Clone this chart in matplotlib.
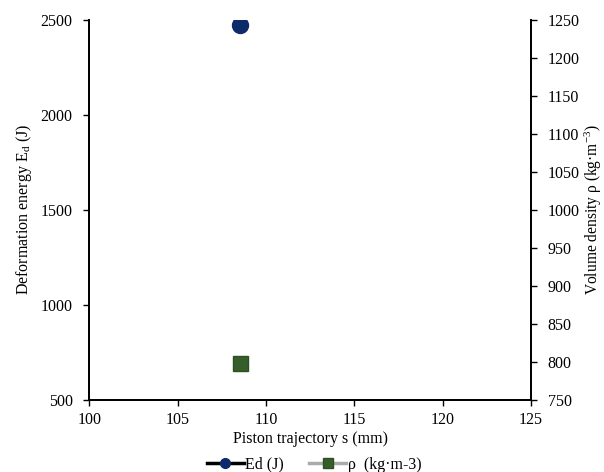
import matplotlib
matplotlib.use('Agg')
import matplotlib.pyplot as plt
from matplotlib.lines import Line2D

plt.rcParams['font.family'] = ['Liberation Serif', 'DejaVu Serif']
plt.rcParams['mathtext.fontset'] = 'custom'
plt.rcParams['mathtext.rm'] = 'Liberation Serif'
plt.rcParams['mathtext.it'] = 'Liberation Serif:italic'
plt.rcParams['font.size'] = 11.5

# data
s_mm = [108.5]
ed_j = [2475]
rho = [798]

fig, ax = plt.subplots(figsize=(6.04, 4.72), dpi=100)
fig.subplots_adjust(left=0.148, right=0.879, top=0.958, bottom=0.153)
ax2 = ax.twinx()

ax.plot(s_mm, ed_j, color='black', lw=2.5, marker='o', ms=11.5,
        mfc='#0d2a6b', mec='#0d2a6b')
ax2.plot(s_mm, rho, color='#aaaaaa', lw=2.5, marker='s', ms=10.8,
         mfc='#355e2b', mec='#2f4f22')

ax.set_xlim(100, 125)
ax.set_ylim(500, 2500)
ax2.set_ylim(750, 1250)
ax.set_xticks(range(100, 126, 5))
ax.set_yticks(range(500, 2501, 500))
ax2.set_yticks(range(750, 1251, 50))

for a in (ax, ax2):
    a.spines['top'].set_visible(False)
    for sp in a.spines.values():
        sp.set_linewidth(1.3)
    a.tick_params(length=4, width=1, labelsize=11.5, pad=8)
ax.tick_params(axis='x', pad=5)

ax.set_xlabel('Piston trajectory s (mm)', labelpad=2)
ax.set_ylabel('Deformation energy E$_\\mathrm{d}$ (J)', labelpad=5)
ax2.set_ylabel('Volume density ρ (kg·m$^{-3}$)', labelpad=2, fontsize=11.2)

handles = [
    Line2D([], [], color='black', lw=2.5, marker='o', ms=7,
           mfc='#0d2a6b', mec='#0d2a6b'),
    Line2D([], [], color='#aaaaaa', lw=2.5, marker='s', ms=7,
           mfc='#355e2b', mec='#2f4f22'),
]
fig.legend(handles, ['Ed (J)', 'ρ  (kg·m-3)'], loc='lower center',
           bbox_to_anchor=(0.52, -0.032), ncol=2, frameon=False,
           fontsize=11.5, handlelength=2.3, handletextpad=0.1,
           columnspacing=1.6)

fig.savefig('out.png', dpi=100)
